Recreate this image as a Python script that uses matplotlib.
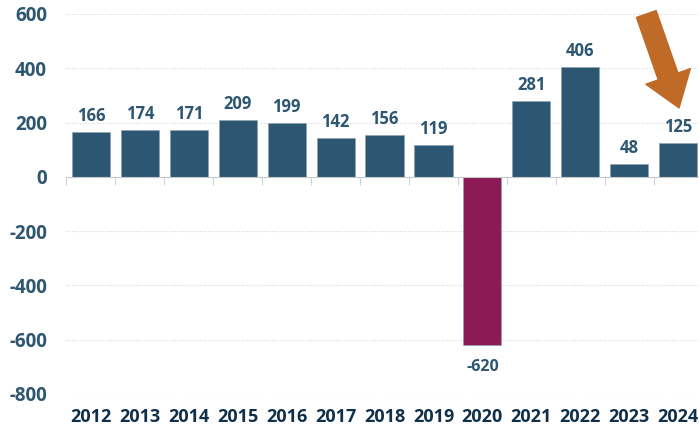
import numpy as np
import matplotlib.pyplot as plt

# data
years = ['2012', '2013', '2014', '2015', '2016', '2017', '2018',
         '2019', '2020', '2021', '2022', '2023', '2024']
values = [166, 174, 171, 209, 199, 142, 156, 119, -620, 281, 406, 48, 125]
yticks = [-800, -600, -400, -200, 0, 200, 400, 600]

blue = '#2d5672'
maroon = '#8b1a55'
dark = '#10304a'

plt.rcParams['font.family'] = ['Open Sans', 'DejaVu Sans']

fig = plt.figure(figsize=(6.99, 4.32), dpi=100)
ax = fig.add_axes([0.0951, 0.088, 0.91, 0.8796])

x = np.arange(len(years))
colors = [maroon if v < 0 else blue for v in values]
bars = ax.bar(x, values, width=0.78, color=colors, edgecolor='#8fa3b2',
              linewidth=0.5, zorder=3)

# value labels
for xi, v in zip(x, values):
    if v >= 0:
        ax.annotate(str(v), (xi, v), xytext=(0, 5), textcoords='offset points',
                    ha='center', va='bottom', fontsize=12, fontweight='bold',
                    color=blue)
    else:
        ax.annotate(str(v), (xi, v), xytext=(0, -10), textcoords='offset points',
                    ha='center', va='top', fontsize=11.5, fontweight='bold',
                    color=blue)

ax.set_xlim(-0.5, len(years) - 0.5)
ax.set_ylim(-800, 600)

# y axis
ax.set_yticks(yticks)
ax.set_yticklabels([str(t) for t in yticks])
ax.tick_params(axis='y', length=0, pad=14, labelsize=13.5, labelcolor=blue)
for lab in ax.get_yticklabels():
    lab.set_fontweight('bold')
ax.yaxis.grid(True, linestyle=(0, (1, 1.5)), color='#d6d6d6', linewidth=0.8, zorder=0)

for s in ['top', 'right', 'left']:
    ax.spines[s].set_visible(False)

# zero line with ticks between categories
ax.spines['bottom'].set_position(('data', 0))
ax.spines['bottom'].set_color('#c8c8c8')
ax.spines['bottom'].set_zorder(4)
ax.set_xticks(x)
ax.set_xticklabels([])
ax.set_xticks(np.arange(len(years) + 1) - 0.5, minor=True)
ax.tick_params(axis='x', which='major', length=0)
ax.tick_params(axis='x', which='minor', length=6, color='#c8c8c8', direction='out')

# year labels at bottom
sec = ax.secondary_xaxis(-0.0)
sec.set_xticks(x)
sec.set_xticklabels(years)
sec.tick_params(length=0, pad=10, labelsize=13, labelcolor=dark)
for lab in sec.get_xticklabels():
    lab.set_fontweight('bold')
sec.spines['bottom'].set_visible(False)

# arrow
ax.annotate('', xy=(12.02, 254), xytext=(11.35, 600),
            arrowprops=dict(width=15, headwidth=34, headlength=24,
                            color='#c06a28', shrink=0))

fig.savefig('out.png', dpi=100)
